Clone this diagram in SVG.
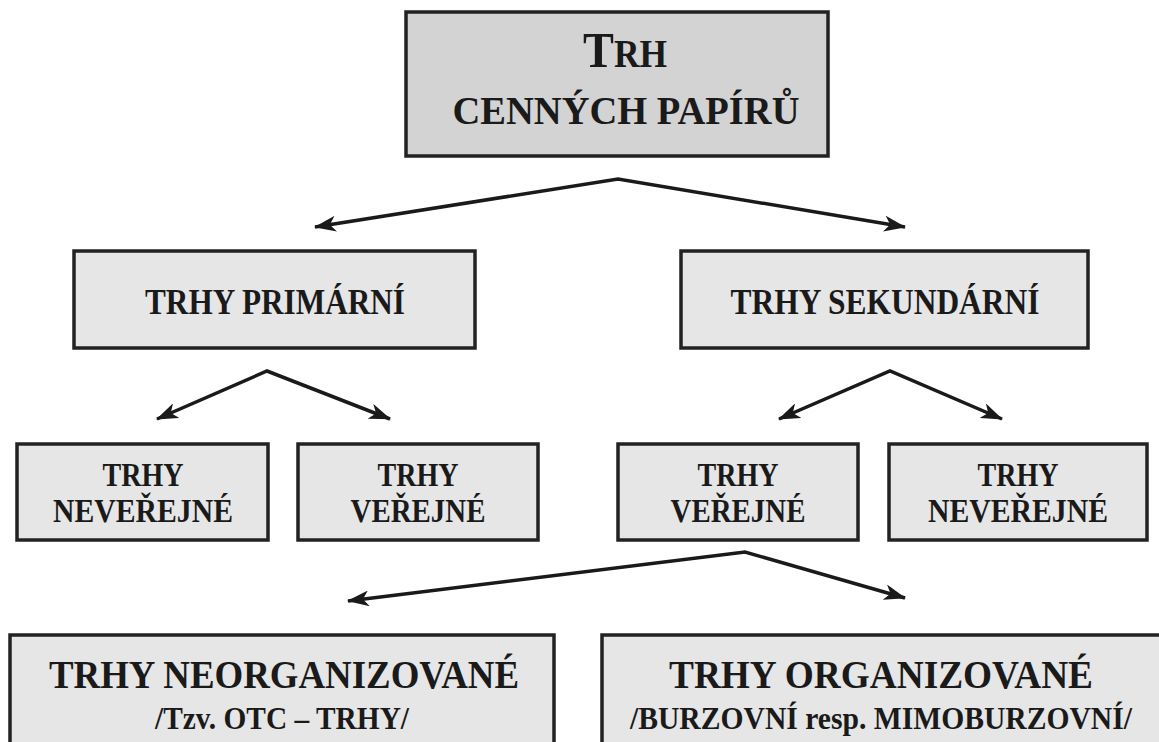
<svg xmlns="http://www.w3.org/2000/svg" width="1159" height="742" viewBox="0 0 1159 742">
  <style>
    .box { fill: #e6e6e6; stroke: #222; stroke-width: 3.5; }
    .root { fill: #d3d3d3; stroke: #222; stroke-width: 3.5; }
    text { font-family: "Liberation Serif", "Times New Roman", serif; font-weight: bold; fill: #1a1a1a; text-anchor: middle; }
    .conn { fill: none; stroke: #1a1a1a; stroke-width: 3.5; stroke-linejoin: miter; marker-start: url(#ah); marker-end: url(#ah); }
  </style>
  <defs>
    <marker id="ah" viewBox="0 0 22 16" refX="21" refY="8" markerWidth="22" markerHeight="16" markerUnits="userSpaceOnUse" orient="auto-start-reverse">
      <path d="M0,0 L22,8 L0,16 L6,8 z" fill="#1a1a1a"/>
    </marker>
  </defs>
  <rect width="1159" height="742" fill="#ffffff"/>

  <g id="connectors">
    <path class="conn" d="M315,227 L618,179 L905,227"/>
    <path class="conn" d="M157,419 L267,371 L390,419"/>
    <path class="conn" d="M779,419 L890,371 L1002,419"/>
    <path class="conn" d="M348,601 L745,552 L905,598"/>
  </g>

  <g id="trh-cennych-papiru">
    <rect class="root" x="406" y="12" width="422" height="144"/>
    <text x="625" y="67" font-size="39" textLength="84" lengthAdjust="spacingAndGlyphs"><tspan font-size="51">T</tspan>RH</text>
    <text x="626" y="124" font-size="41" textLength="347" lengthAdjust="spacingAndGlyphs">CENNÝCH PAPÍRŮ</text>
  </g>

  <g id="trhy-primarni">
    <rect class="box" x="74" y="251" width="401" height="97"/>
    <text x="275" y="314" font-size="35" textLength="260" lengthAdjust="spacingAndGlyphs">TRHY PRIMÁRNÍ</text>
  </g>

  <g id="trhy-sekundarni">
    <rect class="box" x="681" y="251" width="407" height="97"/>
    <text x="885" y="314" font-size="35" textLength="309" lengthAdjust="spacingAndGlyphs">TRHY SEKUNDÁRNÍ</text>
  </g>

  <g id="primarni-neverejne">
    <rect class="box" x="17" y="444" width="251" height="96"/>
    <text x="143" y="486" font-size="33" textLength="81" lengthAdjust="spacingAndGlyphs">TRHY</text>
    <text x="143" y="522" font-size="33" textLength="180" lengthAdjust="spacingAndGlyphs">NEVEŘEJNÉ</text>
  </g>

  <g id="primarni-verejne">
    <rect class="box" x="298" y="444" width="240" height="96"/>
    <text x="418" y="486" font-size="33" textLength="81" lengthAdjust="spacingAndGlyphs">TRHY</text>
    <text x="418" y="522" font-size="33" textLength="135" lengthAdjust="spacingAndGlyphs">VEŘEJNÉ</text>
  </g>

  <g id="sekundarni-verejne">
    <rect class="box" x="618" y="444" width="240" height="96"/>
    <text x="738" y="486" font-size="33" textLength="81" lengthAdjust="spacingAndGlyphs">TRHY</text>
    <text x="738" y="522" font-size="33" textLength="135" lengthAdjust="spacingAndGlyphs">VEŘEJNÉ</text>
  </g>

  <g id="sekundarni-neverejne">
    <rect class="box" x="889" y="444" width="258" height="96"/>
    <text x="1018" y="486" font-size="33" textLength="81" lengthAdjust="spacingAndGlyphs">TRHY</text>
    <text x="1018" y="522" font-size="33" textLength="180" lengthAdjust="spacingAndGlyphs">NEVEŘEJNÉ</text>
  </g>

  <g id="trhy-neorganizovane">
    <rect class="box" x="10" y="635" width="544" height="130"/>
    <text x="284" y="688" font-size="39" textLength="470" lengthAdjust="spacingAndGlyphs">TRHY NEORGANIZOVANÉ</text>
    <text x="282" y="729" font-size="31" textLength="254" lengthAdjust="spacingAndGlyphs">/Tzv. OTC – TRHY/</text>
  </g>

  <g id="trhy-organizovane">
    <rect class="box" x="602" y="635" width="560" height="130"/>
    <text x="881" y="688" font-size="39" textLength="424" lengthAdjust="spacingAndGlyphs">TRHY ORGANIZOVANÉ</text>
    <text x="881" y="729" font-size="31" textLength="502" lengthAdjust="spacingAndGlyphs">/BURZOVNÍ resp. MIMOBURZOVNÍ/</text>
  </g>
</svg>
